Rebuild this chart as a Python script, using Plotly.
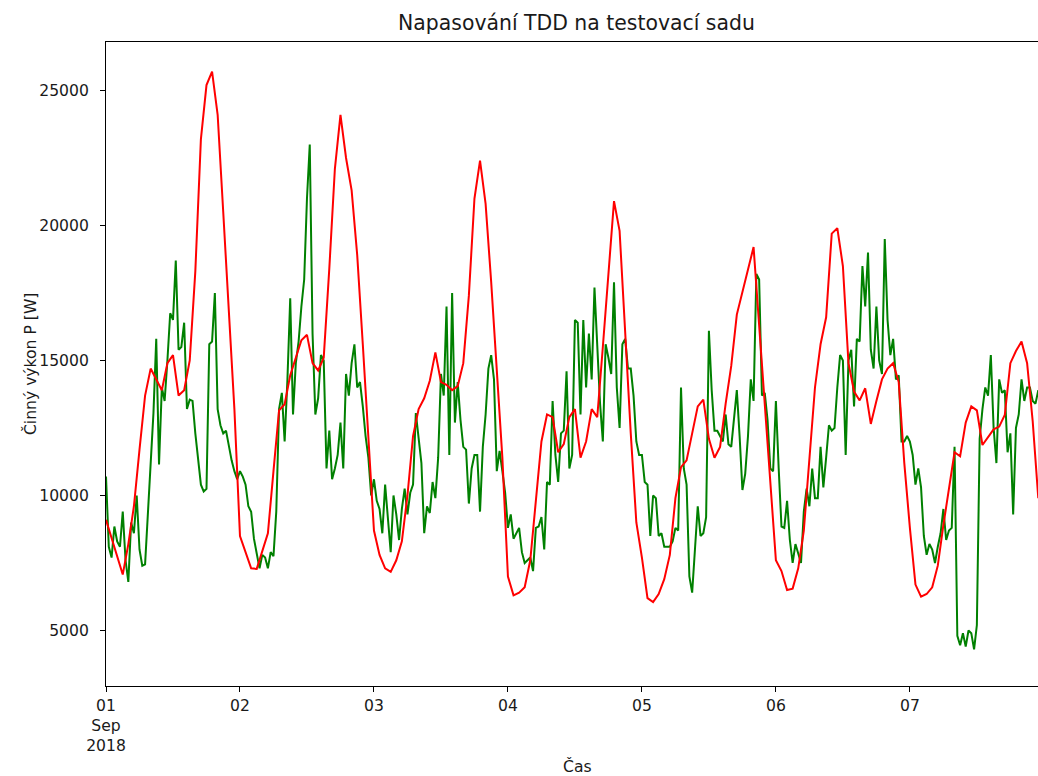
import pandas as pd
import plotly.graph_objects as go

# ---- data ----
# red: model fit, hourly values, 1 Sep 2018 00:00 ... 7 Sep 2018 23:00
red_day1 = [9100, 8400, 7700, 7070, 8200, 9600, 11700, 13700, 14700, 14300, 13900, 14900,
            15200, 13700, 13900, 15000, 18300, 23200, 25200, 25700, 24100, 20500, 16900, 13200]
red_day2 = [8500, 7900, 7300, 7280, 7900, 8600, 10900, 13150, 13380, 14450, 15100, 15750,
            15950, 14900, 14630, 15100, 18400, 22100, 24100, 22500, 21300, 18900, 15600, 12300]
red_day3 = [8700, 7800, 7300, 7170, 7600, 8300, 10000, 12200, 13200, 13600, 14250, 15300,
            14200, 14100, 13900, 14050, 14900, 17400, 21000, 22400, 20800, 17900, 14600, 11400]
red_day4 = [7000, 6300, 6400, 6600, 7600, 9800, 12000, 13000, 12900, 11600, 11900, 12900,
            13200, 11400, 12000, 13200, 12900, 15500, 18300, 20900, 19800, 16000, 12300, 9000]
red_day5 = [7700, 6200, 6050, 6350, 6900, 7800, 9900, 11050, 11300, 12300, 13300, 13550,
            12100, 11400, 11800, 13400, 14800, 16700, 17500, 18400, 19200, 16300, 13300, 10300]
red_day6 = [7600, 7200, 6500, 6550, 7300, 8700, 11200, 14000, 15600, 16600, 19700, 19900,
            18500, 14900, 13850, 13520, 13970, 12650, 13500, 14300, 14700, 14900, 14200, 11200]
red_day7 = [8800, 6700, 6250, 6350, 6600, 7400, 8900, 10250, 11600, 11450, 12700, 13300,
            13150, 11870, 12150, 12450, 12550, 12980, 14900, 15350, 15700, 14900, 12750, 9900]

# green: measured test set, half-hourly values
green_day1 = [10700, 8100, 7700, 8850, 8300, 8100, 9400, 7600, 6800, 9000, 8600, 10000,
              8000, 7400, 7450, 9500, 11500, 13050, 15800, 11150, 14000, 13500, 15000, 16750,
              16500, 18700, 15400, 15500, 16400, 13200, 13550, 13500, 12300, 11300, 10400, 10150,
              10250, 15600, 15700, 17500, 13200, 12600, 12300, 12400, 11800, 11300, 10900, 10600]
green_day2 = [10900, 10700, 10400, 9600, 9400, 8400, 7850, 7300, 7800, 7700, 7300, 7900,
              7750, 9400, 13200, 13800, 12000, 14300, 17300, 13000, 14900, 15700, 17000, 18000,
              21000, 23000, 16000, 13000, 13600, 15200, 15000, 11000, 12400, 10600, 11000, 11500,
              12700, 11000, 14500, 13700, 14900, 15600, 14000, 14200, 13300, 12200, 11400, 10000]
green_day3 = [10600, 9800, 9500, 8600, 10400, 9000, 7900, 10000, 9300, 8350, 9500, 10250,
              9300, 10100, 10400, 13050, 12000, 11200, 8600, 9600, 9350, 10500, 9900, 11400,
              14500, 13700, 17000, 11500, 17500, 12700, 14200, 12800, 11800, 11700, 9700, 11000,
              11500, 11500, 9400, 11800, 13000, 14700, 15200, 14300, 10900, 11650, 10900, 10100]
green_day4 = [8800, 9300, 8400, 8600, 8800, 7900, 7500, 7600, 7700, 7200, 8800, 8850,
              9200, 8000, 10500, 10400, 13500, 11500, 10500, 12300, 12400, 14600, 11000, 11500,
              16500, 16400, 13000, 16500, 14000, 16000, 14300, 17700, 15700, 13400, 12000, 15600,
              15100, 14500, 17900, 14000, 12500, 15600, 15800, 14700, 14700, 13700, 12000, 11500]
green_day5 = [11500, 10500, 10400, 8500, 10000, 9900, 8500, 8600, 8100, 8100, 8100, 8300,
              8800, 8700, 14000, 11000, 10400, 7000, 6400, 8000, 9600, 8500, 8600, 9200,
              16100, 13900, 12400, 12400, 12200, 12000, 13000, 11900, 11800, 13000, 13900, 12200,
              10200, 10800, 12200, 14300, 13500, 18200, 18000, 13700, 13800, 12800, 11000, 10900]
green_day6 = [13500, 11000, 8850, 8800, 9800, 8350, 7500, 8200, 7850, 7500, 9400, 10250,
              9600, 11000, 9900, 9900, 11800, 10300, 11400, 12600, 12400, 12500, 14000, 15200,
              15000, 11500, 15000, 15400, 13300, 15800, 15700, 18500, 17000, 19000, 15400, 14700,
              17000, 15000, 14500, 19500, 16500, 15200, 15800, 14300, 14450, 12000, 12000, 12200]
green_day7 = [12000, 11500, 10400, 11000, 10300, 8500, 7800, 8200, 8000, 7500, 8100, 8600,
              9500, 8350, 8700, 8800, 11800, 4800, 4450, 4900, 4400, 5000, 4900, 4300,
              5200, 12100, 13200, 14000, 13700, 15200, 12500, 11200, 14300, 13800, 13900, 11600,
              12300, 9300, 12500, 13000, 14300, 13500, 14000, 14000, 13500, 13400, 13900, 13600]

x_tick_dates = ["2018-09-01", "2018-09-02", "2018-09-03", "2018-09-04",
                "2018-09-05", "2018-09-06", "2018-09-07"]
x_tick_labels = ["01<br>Sep<br>2018", "02", "03", "04", "05", "06", "07"]
y_tick_values = [5000, 10000, 15000, 20000, 25000]
y_tick_labels = ["5000", "10000", "15000", "20000", "25000"]

title_text = "Napasování TDD na testovací sadu"
x_label = "Čas"
y_label = "Činný výkon P [W]"

# ---- build series ----
red_values = red_day1 + red_day2 + red_day3 + red_day4 + red_day5 + red_day6 + red_day7
green_values = (green_day1 + green_day2 + green_day3 + green_day4 +
                green_day5 + green_day6 + green_day7)
red_time = pd.date_range("2018-09-01 00:00", periods=len(red_values), freq="h")
green_time = pd.date_range("2018-09-01 00:00", periods=len(green_values), freq="30min")

FONT = "DejaVu Sans"
TXT = "#1a1a1a"

fig = go.Figure()
fig.add_trace(go.Scatter(x=green_time, y=green_values, mode="lines",
                         line=dict(color="#008000", width=2), name="test"))
fig.add_trace(go.Scatter(x=red_time, y=red_values, mode="lines",
                         line=dict(color="#ff0000", width=2), name="TDD"))

fig.update_layout(
    width=1038, height=776,
    margin=dict(l=106, r=0, t=42, b=90, pad=0),
    paper_bgcolor="white", plot_bgcolor="white",
    showlegend=False,
    font=dict(family=FONT, size=15.6, color=TXT),
    title=dict(text=title_text, x=0.5048, xref="paper", xanchor="center",
               y=1 - 23 / 776, yref="container", yanchor="middle",
               font=dict(family=FONT, size=20.4, color=TXT)),
    xaxis=dict(type="date", range=["2018-09-01 00:00", "2018-09-07 22:57"],
               tickvals=x_tick_dates, ticktext=x_tick_labels,
               ticks="outside", ticklen=5, tickwidth=1, tickcolor="black",
               showline=True, linecolor="black", linewidth=1, mirror=True,
               showgrid=False, zeroline=False, ticklabelstandoff=0,
               tickfont=dict(family=FONT, size=15.6, color=TXT)),
    yaxis=dict(range=[2943, 26796],
               tickvals=y_tick_values, ticktext=y_tick_labels,
               ticks="outside", ticklen=5, tickwidth=1, tickcolor="black",
               showline=True, linecolor="black", linewidth=1, mirror=False,
               showgrid=False, zeroline=False, ticklabelstandoff=8,
               tickfont=dict(family=FONT, size=15.6, color=TXT)),
    annotations=[
        dict(text=x_label, x=0.5054, y=-0.125, xref="paper", yref="paper",
             xanchor="center", yanchor="middle", showarrow=False,
             font=dict(family=FONT, size=15.6, color=TXT)),
        dict(text=y_label, x=-0.0815, y=0.5, xref="paper", yref="paper",
             xanchor="center", yanchor="middle", showarrow=False, textangle=-90,
             font=dict(family=FONT, size=15.6, color=TXT)),
    ],
)

fig.write_html("out.html")
